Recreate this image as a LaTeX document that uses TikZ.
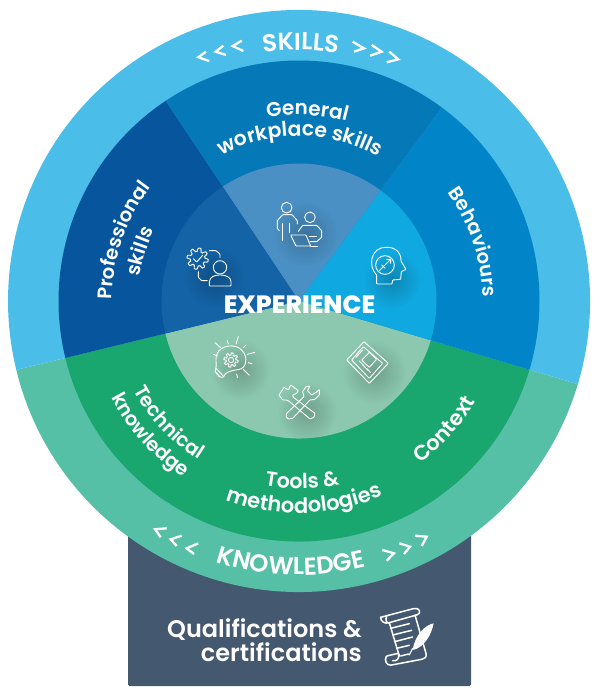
\documentclass[tikz,border=0pt]{standalone}
\usepackage{fontspec}
\setmainfont{Poppins SemiBold}
\newfontfamily\heavyfont{Poppins ExtraBold}
\usetikzlibrary{fadings}
\definecolor{skillout}{HTML}{4BBDE9}
\definecolor{knowout}{HTML}{55C0A6}
\definecolor{genmid}{HTML}{0578B8}
\definecolor{behmid}{HTML}{0285C8}
\definecolor{promid}{HTML}{07559C}
\definecolor{greenmid}{HTML}{19A66F}
\definecolor{geninner}{HTML}{4A90C4}
\definecolor{behinner}{HTML}{10A8E0}
\definecolor{proinner}{HTML}{1463A6}
\definecolor{greeninner}{HTML}{8CC8AF}
\definecolor{boxslate}{HTML}{44586F}
\tikzfading[name=blobfade, inner color=transparent!60, outer color=transparent!100]
\newcommand{\pie}[4]{\fill[#1] (299,-301) -- ++(#2:#4) arc[start angle=#2,end angle=#3,radius=#4] -- cycle;}
% glyph widths at 10pt, measured once before the picture
\expandafter\def\csname arcg@sp\endcsname{~}
\expandafter\def\csname arcg@am\endcsname{\&}
\newcommand{\arcglyph}[1]{\ifcsname arcg@#1\endcsname\csname arcg@#1\endcsname\else#1\fi}
\AtBeginDocument{%
  \foreach \arcc in {S,K,I,L,N,O,W,E,D,G,P,B,T,C,e,n,r,a,l,w,o,k,p,c,s,i,f,h,v,u,t,d,g,m,x,sp,am}{%
    \setbox0=\hbox{\normalfont\fontsize{10}{10}\selectfont\arcglyph{\arcc}}%
    \expandafter\xdef\csname arcw@\arcc\endcsname{\the\wd0}%
  }%
}
% #1 size, #2 radius, #3 mid angle, #4 +1 reads clockwise / -1 anticlockwise, #5 list of characters
\newcommand{\arclabel}[5]{%
  \gdef\arcsum{0}%
  \foreach \arcc in {#5}{%
    \pgfmathsetmacro\arcn{\arcsum+\csname arcw@\arcc\endcsname*#1/10}%
    \xdef\arcsum{\arcn}%
  }%
  \gdef\arcrun{0}%
  \foreach \arcc in {#5}{%
    \pgfmathsetmacro\arcwid{\csname arcw@\arcc\endcsname*#1/10}%
    \pgfmathsetmacro\arcoff{\arcrun+0.5*\arcwid-0.5*\arcsum}%
    \pgfmathsetmacro\arcang{#3-(#4)*\arcoff/#2*57.29578}%
    \pgfmathsetmacro\arcrot{\arcang-(#4)*90}%
    \path (299,-301) ++(\arcang:#2) node[anchor=base,inner sep=0pt,text=white,rotate=\arcrot] {\fontsize{#1}{#1}\selectfont\arcglyph{\arcc}};
    \pgfmathsetmacro\arcn{\arcrun+\arcwid}%
    \xdef\arcrun{\arcn}%
  }%
}
\newcommand{\chev}[3]{\draw[chevron] (#1) -- (#2) -- (#3);}
\newcommand{\blob}[3]{\fill[black,opacity=.5,path fading=blobfade] (#1,-#2) circle[radius=#3];}
\tikzset{
  chevron/.style={white,line width=2.3pt,line join=miter,line cap=butt},
  icon/.style={white,line width=.9pt,line cap=round,line join=round,rounded corners=.6pt},
  zoomA/.style={shift={(160,-160)},x=.3333pt,y=-.3333pt},
  zoomB/.style={shift={(160,-300)},x=.3333pt,y=-.3333pt},
  zoomC/.style={shift={(120,-520)},x=.3333pt,y=-.3333pt},
}
\begin{document}
\begin{tikzpicture}[x=1pt,y=1pt]
\useasboundingbox (0,0) rectangle (600,-699);
% certificate box
\fill[boxslate,rounded corners=1.5pt] (128,-530) rectangle (471,-686);
% rings
\pie{knowout}{193.7}{343.4}{291}
\pie{skillout}{-16.6}{193.7}{291}
\pie{greenmid}{193.7}{343.4}{240.5}
\pie{behmid}{-16.6}{53.6}{240.5}
\pie{genmid}{53.6}{123.7}{240.5}
\pie{promid}{123.7}{193.7}{240.5}
\pie{greeninner}{193.7}{343.4}{137.5}
\pie{behinner}{-16.6}{53.6}{137.5}
\pie{geninner}{53.6}{123.7}{137.5}
\pie{proinner}{123.7}{193.7}{137.5}
% icon shadows
\begin{scope}
\clip (299,-301) circle[radius=137.5];
\blob{305}{234}{32}
\blob{214}{277}{30}
\blob{392}{280}{28}
\blob{240}{370}{30}
\blob{374}{372}{32}
\blob{307}{412}{30}
\end{scope}
% chevrons SKILLS
\chev{206,-51.7}{198.3,-57.3}{209.3,-61}
\chev{223.3,-45.7}{215.7,-51.7}{226,-55}
\chev{241.7,-40.7}{232.7,-46}{243.3,-51}
\chev{352.7,-41.7}{364,-48.3}{354,-51.7}
\chev{371.7,-45}{381.7,-51.7}{370,-55.7}
\chev{389.3,-51.7}{398.3,-59.3}{386.7,-62.3}
% chevrons KNOWLEDGE
\chev{166.7,-528.3}{155,-529.3}{160.7,-537.3}
\chev{181.7,-535.7}{170.7,-539.3}{176.7,-546}
\chev{198.3,-543.3}{186.7,-548.3}{194,-554}
\chev{382.3,-550}{394,-553.3}{386.7,-560.7}
\chev{399.3,-543.3}{410,-546.7}{404,-554}
\chev{415,-535.7}{426.7,-536.7}{421.7,-546}
% ring labels
\arclabel{24.5}{251}{89.6}{1}{S,K,I,L,L,S}
\arclabel{24.5}{274}{268.2}{-1}{K,N,O,W,L,E,D,G,E}
\arclabel{20}{186}{87.5}{1}{G,e,n,e,r,a,l}
\arclabel{20.3}{165}{89.6}{1}{w,o,r,k,p,l,a,c,e,sp,s,k,i,l,l,s}
\arclabel{19.5}{187}{161}{1}{P,r,o,f,e,s,s,i,o,n,a,l}
\arclabel{19.5}{161}{162.6}{1}{s,k,i,l,l,s}
\arclabel{19.5}{184}{18.7}{1}{B,e,h,a,v,i,o,u,r,s}
\arclabel{19.5}{188}{223}{-1}{T,e,c,h,n,i,c,a,l}
\arclabel{19.5}{211}{222}{-1}{k,n,o,w,l,e,d,g,e}
\arclabel{20.5}{188}{271}{-1}{T,o,o,l,s,sp,am}
\arclabel{21}{212}{271.5}{-1}{m,e,t,h,o,d,o,l,o,g,i,e,s}
\arclabel{21}{203}{318.5}{-1}{C,o,n,t,e,x,t}
% centre label
\node (exp) at (299.5,-305) {\heavyfont\fontsize{25}{25}\selectfont\color{white}EXPERIENCE};
% box text
\node[anchor=base east,inner sep=0pt] (qual) at (362,-637) {\fontsize{24}{24}\selectfont\color{white}Qualifications \&};
\node[anchor=base east,inner sep=0pt] (cert) at (362,-661) {\fontsize{24}{24}\selectfont\color{white}certifications};
% icon: two people with laptop
\begin{scope}[zoomA]
\draw[icon] (380,143) circle[radius=16];
\draw[icon] (450,172) circle[radius=16];
\draw[icon] (358,212) -- (352,205) -- (352,182) -- (368,164) -- (396,164) -- (412,182) -- (412,192);
\draw[icon] (367,190) -- (367,242);
\draw[icon] (388,190) -- (388,218);
\draw[icon] (415,214) -- (428,196) -- (470,196) -- (485,212) -- (485,232) -- (470,245) -- (450,245);
\draw[icon] (448,228) -- (470,228);
\draw[icon] (392,225) -- (438,225) -- (452,258) -- (408,258) -- cycle;
\draw[icon] (452,258) -- (472,258);
% icon: gear, check, person
\draw[icon] plot[domain=0:360,samples=97] ({113+(27+5*max(-1,min(1,2.5*sin(8*\x))))*cos(\x)},{296+(27+5*max(-1,min(1,2.5*sin(8*\x))))*sin(\x)});
\draw[icon] (100,296) -- (110,306) -- (128,286);
\draw[icon] (148,272) -- (168,272) -- (180,282) -- (180,292);
\draw[icon] (115,335) -- (115,352) -- (125,362) -- (142,362);
\draw[icon] (180,322) circle[radius=20];
\draw[icon] (148,378) -- (148,366) .. controls (150,350) and (165,345) .. (180,345) .. controls (195,345) and (212,350) .. (213,366) -- (213,378) -- cycle;
% icon: head with compass
\draw[icon] (650,372) -- (650,345) .. controls (625,320) and (630,262) .. (680,262) .. controls (712,262) and (725,285) .. (723,303) -- (738,328) -- (724,335) -- (722,358) -- (698,360) -- (696,372) -- cycle;
\draw[icon] (675,315) circle[radius=28];
\draw[icon] (658,332) -- (692,298);
\draw[icon] (680,298) -- (692,298) -- (692,310);
\draw[icon] (665,315) -- (675,325);
\end{scope}
% icon: bulb
\begin{scope}[zoomB]
\draw[icon] (175,225) -- (165,215) .. controls (172,195) and (165,180) .. (170,165) .. controls (180,135) and (225,130) .. (245,150) .. controls (268,175) and (255,205) .. (238,208) .. controls (215,212) and (195,215) .. (190,232) -- (175,230) -- cycle;
\draw[icon] (168,205) -- (190,228);
\draw[icon] (165,215) -- (180,230);
\draw[icon] plot[domain=0:360,samples=97] ({213+(18+3.5*max(-1,min(1,2.5*sin(8*\x))))*cos(\x)},{180+(18+3.5*max(-1,min(1,2.5*sin(8*\x))))*sin(\x)});
\draw[icon] (213,180) circle[radius=8];
\draw[icon] (165,128) -- (182,143);
\draw[icon] (202,122) -- (205,132);
\draw[icon] (235,110) -- (228,132);
\draw[icon] (258,135) -- (250,143);
\draw[icon] (284,157) -- (262,163);
\draw[icon] (160,163) -- (172,167);
\draw[icon] (265,188) -- (276,191);
\draw[icon] (250,208) -- (268,226);
\draw[icon] (230,222) -- (233,233);
% icon: newspaper
\draw[icon] (612,125) -- (685,190) -- (628,250) -- (560,180) -- cycle;
\draw[icon] (610,140) -- (668,190) -- (628,235) -- (575,180) -- cycle;
\draw[icon] (588,172) -- (608,150);
\draw[icon] (605,180) -- (628,157) -- (650,178) -- (628,202) -- cycle;
\draw[icon] (598,183) -- (612,197);
\draw[icon] (608,195) -- (625,212);
\draw[icon] (620,205) -- (632,218);
% icon: hammer and wrench
\draw[icon] (357,285) -- (372,262) -- (385,270) -- (392,255) -- (415,272) -- (410,280) -- (398,285) -- (400,292) -- (465,340) -- (462,352) -- (450,357) -- (385,302) -- (378,300) -- (368,300) -- cycle;
\draw[icon] (378,350) -- (380,340) -- (432,290) -- (428,275) -- (438,260) -- (450,258) -- (442,272) -- (455,285) -- (470,276) -- (478,268) -- (478,285) -- (465,298) -- (450,300) -- (398,355) -- (385,357) -- cycle;
\end{scope}
% icon: scroll and quill
\begin{scope}[zoomC]
\draw[icon,line width=1.5pt] (782,292) -- (880,266) .. controls (900,262) and (905,280) .. (890,285) -- (808,308) .. controls (800,310) and (795,298) .. (800,290);
\draw[icon,line width=1.5pt] (782,292) .. controls (782,305) and (795,312) .. (808,308) -- (838,408);
\draw[icon,line width=1.5pt] (885,285) -- (918,400) .. controls (920,412) and (915,415) .. (905,418) -- (815,435) .. controls (800,438) and (792,420) .. (800,408) -- (835,400) .. controls (840,415) and (830,425) .. (818,422);
\draw[icon,line width=1.5pt] (812,325) -- (868,311);
\draw[icon,line width=1.5pt] (818,345) -- (875,331);
\draw[icon,line width=1.5pt] (824,365) -- (878,351);
\draw[icon,line width=1.5pt] (830,385) -- (868,376);
\draw[icon,line width=1.5pt] (842,408) -- (866,402);
\fill[white] (941,310) .. controls (915,315) and (885,345) .. (878,390) .. controls (910,385) and (935,345) .. (941,310) -- cycle;
\draw[icon,line width=1.2pt] (878,385) -- (868,405);
\end{scope}
\end{tikzpicture}
\end{document}
